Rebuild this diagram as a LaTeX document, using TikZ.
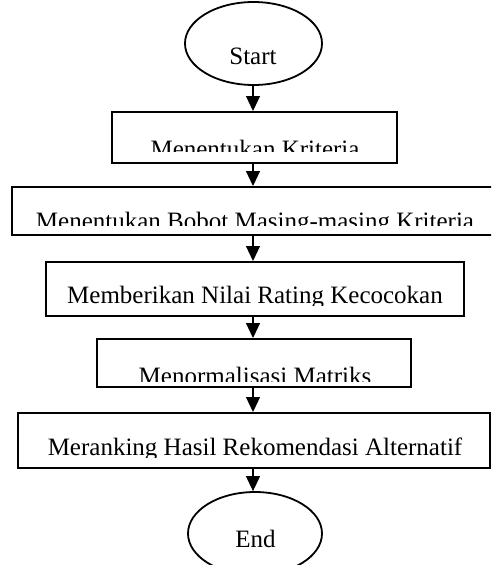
\documentclass[tikz,border=0pt]{standalone}
\usepackage{fontspec}
\setmainfont{Liberation Serif}
\usetikzlibrary{arrows.meta,shapes.geometric}

\begin{document}
\begin{tikzpicture}
    [x=1pt,y=-1pt,every node/.style={inner sep=0pt},
     box/.style={draw, line width=2pt, rectangle},
     term/.style={draw, line width=1.8pt, ellipse},
     lbl/.style={anchor=base, font=\fontsize{25}{29}\selectfont},
     flow/.style={-{Triangle[length=15pt,width=14pt]}, line width=1.2pt}]
  \useasboundingbox (0,0) rectangle (491,565);
  \clip (0,0) rectangle (491,565);

  \node[term, minimum width=137pt, minimum height=83pt] (start) at (253.5,43.5) {};
  \node[box, minimum width=285pt, minimum height=51pt] (b1) at (254.5,137.5) {};
  \node[box, minimum width=488pt, minimum height=48pt] (b2) at (256,211) {};
  \node[box, minimum width=418pt, minimum height=54pt] (b3) at (255,289) {};
  \node[box, minimum width=314pt, minimum height=48pt] (b4) at (254,363) {};
  \node[box, minimum width=472pt, minimum height=55pt] (b5) at (254,440.5) {};
  \node[term, minimum width=134pt, minimum height=83pt] (stop) at (255,533.5) {};

  \node[lbl] (tstart) at (253,64) {Start};
  \node[lbl] (tstop) at (255.5,547) {End};

  \foreach \name/\base/\cut/\txt in {t1/157/151/Menentukan Kriteria,
      t2/229/225/Menentukan Bobot Masing-masing Kriteria,
      t3/303/305/Memberikan Nilai Rating Kecocokan,
      t4/384/381/Menormalisasi Matriks,
      t5/455/457/Meranking Hasil Rekomendasi Alternatif}
    {\begin{scope}
       \clip (0,\base-40) rectangle (491,\cut);
       \node[lbl] (\name) at (255,\base) {\txt};
     \end{scope}}

  \coordinate (ax) at (253,0);
  \foreach \from/\to in {start/b1, b1/b2, b2/b3, b3/b4, b4/b5, b5/stop}
    \draw[flow] (ax |- \from.south) -- (ax |- \to.north);
\end{tikzpicture}
\end{document}
